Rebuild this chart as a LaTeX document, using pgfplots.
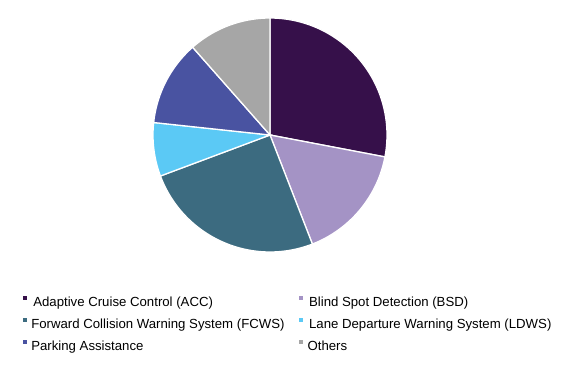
\documentclass[border=0pt]{standalone}
\usepackage{pgfplots}
\usepackage{pgfplotstable}
\pgfplotsset{compat=1.18}
\usepackage{fontspec}
\setmainfont{Liberation Sans}
\definecolor{c0}{HTML}{36104A}
\definecolor{c1}{HTML}{A493C5}
\definecolor{c2}{HTML}{3C6B80}
\definecolor{c3}{HTML}{5BC9F5}
\definecolor{c4}{HTML}{4953A1}
\definecolor{c5}{HTML}{A6A6A6}
\pgfplotstableread{
label value
ACC 28.0
BSD 16.1
FCWS 25.2
LDWS 7.4
PA 11.8
Others 11.5
}\piedata
\begin{document}
\begin{tikzpicture}
\begin{axis}[
  scale only axis, width=578bp, height=383bp,
  xmin=0, xmax=578, ymin=0, ymax=383,
  axis lines=none, clip=false,
  legend image code/.code={\fill[#1, draw=none] (0bp,3bp) rectangle (4bp,7bp);},
  legend style={at={(axis cs:22.7,87.3)}, anchor=north west, draw=none, fill=none,
    inner sep=0pt, outer sep=0pt, legend columns=2,
    font=\fontsize{13.2bp}{15bp}\selectfont,
    nodes={inner sep=0pt, text height=10bp, text depth=3bp},
    row sep=8.6bp,
    /tikz/every odd column/.append style={column sep=4.6bp},
    /tikz/every even column/.append style={column sep=0bp}},
  legend cell align=left,
]
\path (rel axis cs:0,0) (rel axis cs:1,1);
\def\cum{0}
\pgfplotsforeachungrouped \i in {0,...,5}{
  \pgfplotstablegetelem{\i}{value}\of\piedata
  \pgfmathsetmacro\a{90-3.6*\cum}
  \pgfmathsetmacro\cum{\cum+\pgfplotsretval}
  \pgfmathsetmacro\b{90-3.6*\cum}
  \edef\tmp{\noexpand\addplot[fill=c\i, draw=white, line width=1.3bp, domain=\b:\a, samples=80, forget plot] ({270+117*cos(x)},{248+117*sin(x)}) -- (axis cs:270,248) -- cycle;}
  \tmp
}
\addlegendimage{fill=c0}
\addlegendentry{\makebox[267.7bp][l]{\hspace{2bp}Adaptive Cruise Control (ACC)}}
\addlegendimage{fill=c1}
\addlegendentry{\hspace{1.5bp}Blind Spot Detection (BSD)}
\addlegendimage{fill=c2}
\addlegendentry{\makebox[267.7bp][l]{Forward Collision Warning System (FCWS)}}
\addlegendimage{fill=c3}
\addlegendentry{\hspace{1.5bp}Lane Departure Warning System (LDWS)}
\addlegendimage{fill=c4}
\addlegendentry{\makebox[267.7bp][l]{Parking Assistance}}
\addlegendimage{fill=c5}
\addlegendentry{Others}
\end{axis}
\end{tikzpicture}
\end{document}
